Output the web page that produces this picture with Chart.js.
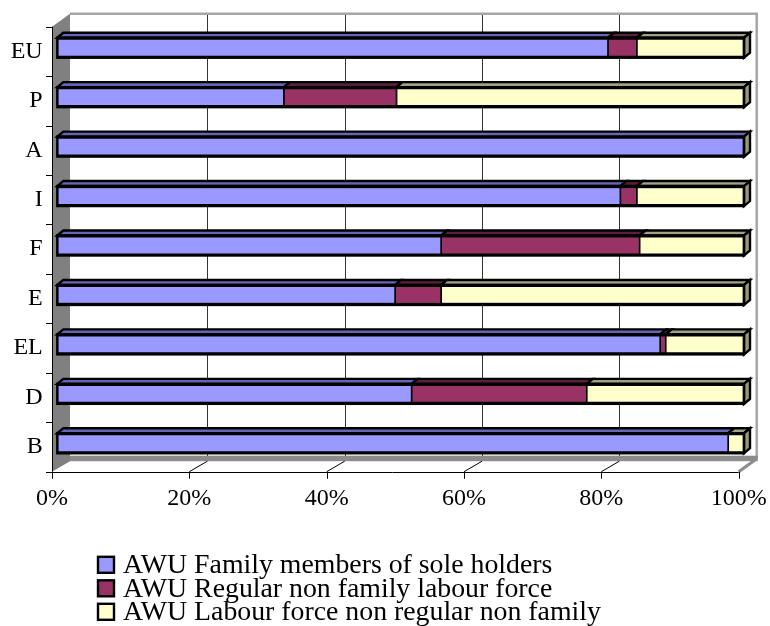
<!DOCTYPE html>
<html>
<head>
<meta charset="utf-8">
<script src="https://cdn.jsdelivr.net/npm/chart.js@4.4.1/dist/chart.umd.min.js"></script>
<style>
  html, body { margin: 0; padding: 0; background: #fff; }
  #wrap { width: 770px; height: 626px; }
</style>
</head>
<body>
<div id="wrap"><canvas id="awuChart" width="770" height="626"></canvas></div>
<script>
// countries, top to bottom as in the chart
const countries = ['EU', 'P', 'A', 'I', 'F', 'E', 'EL', 'D', 'B'];

// share of AWU in %
const familyMembers = [80.2, 33.0, 100, 82.0, 55.9, 49.2, 87.8, 51.6, 97.7];
const regularNonFamily = [4.2, 16.4, 0, 2.4, 28.9, 6.7, 0.8, 25.5, 0];
const nonRegularNonFamily = [15.6, 50.6, 0, 15.6, 15.2, 44.1, 11.4, 22.9, 2.3];

const seriesNames = [
    'AWU Family members of sole holders',
    'AWU Regular non family labour force',
    'AWU Labour force non regular non family'
];
const percentTicks = [0, 20, 40, 60, 80, 100];

const fillColors = ['#9999FF', '#993366', '#FFFFCC'];
const topColors = ['#6666B8', '#5C1F3D', '#A3A383'];
const endSideColor = '#99997A';

// 3D offsets, relative to the bars' front face
const AXIS_OFF = { dx: -5.3, dy: 3.7 };   // front plane (axes)
const BACK_OFF = { dx: 12.7, dy: -9.3 };  // back wall
const BAR_DEPTH = { dx: 6, dy: -5 };

const serif = '"Liberation Serif", "Times New Roman", serif';

// walls, floor, gridlines and axes of the 3D frame
const frame3d = {
    id: 'frame3d',
    beforeDatasetsDraw(chart) {
        const ctx = chart.ctx;
        const xs = chart.scales.x;
        const area = chart.chartArea;
        const x0 = xs.getPixelForValue(0), x1 = xs.getPixelForValue(100);

        const fL = x0 + AXIS_OFF.dx, fR = x1 + AXIS_OFF.dx;
        const fT = area.top + AXIS_OFF.dy, fB = area.bottom + AXIS_OFF.dy;
        const bL = x0 + BACK_OFF.dx, bR = x1 + BACK_OFF.dx;
        const bT = area.top + BACK_OFF.dy, bB = area.bottom + BACK_OFF.dy;

        ctx.save();

        // back wall gridlines
        ctx.strokeStyle = '#333';
        ctx.lineWidth = 1;
        percentTicks.slice(1, -1).forEach(v => {
            const x = Math.round(xs.getPixelForValue(v) + BACK_OFF.dx) + 0.5;
            ctx.beginPath();
            ctx.moveTo(x, bT);
            ctx.lineTo(x, bB);
            ctx.stroke();
        });

        // back wall outline
        ctx.strokeStyle = '#A6A6A6';
        ctx.lineWidth = 2.5;
        ctx.beginPath();
        ctx.moveTo(bL, bT);
        ctx.lineTo(bR, bT);
        ctx.lineTo(bR, bB);
        ctx.stroke();

        // floor edge
        ctx.fillStyle = '#8C8C8C';
        ctx.fillRect(bL, bB - 3, bR - bL + 1, 5.5);
        ctx.strokeStyle = '#8C8C8C';
        ctx.lineWidth = 3;
        ctx.beginPath();
        ctx.moveTo(bR, bB);
        ctx.lineTo(fR, fB);
        ctx.stroke();

        // left wall
        ctx.fillStyle = '#808080';
        ctx.beginPath();
        ctx.moveTo(fL, fT);
        ctx.lineTo(bL, bT);
        ctx.lineTo(bL, bB + 2.5);
        ctx.lineTo(fL, fB);
        ctx.closePath();
        ctx.fill();

        // floor diagonals from back gridlines to front ticks
        ctx.strokeStyle = '#000';
        ctx.lineWidth = 1;
        percentTicks.slice(1, -1).forEach(v => {
            const px = xs.getPixelForValue(v);
            ctx.beginPath();
            ctx.moveTo(px + BACK_OFF.dx, bB + 2.5);
            ctx.lineTo(px + AXIS_OFF.dx, fB);
            ctx.stroke();
        });

        // front axes
        ctx.beginPath();
        ctx.moveTo(fL - 6, Math.round(fB) + 0.5);
        ctx.lineTo(fR, Math.round(fB) + 0.5);
        ctx.moveTo(Math.round(fL) + 0.5, fT);
        ctx.lineTo(Math.round(fL) + 0.5, fB);
        ctx.stroke();

        // category ticks
        const band = (fB - fT) / countries.length;
        for (let i = 0; i < countries.length; i++) {
            const y = Math.round(fT + i * band) + 0.5;
            ctx.beginPath();
            ctx.moveTo(fL - 6, y);
            ctx.lineTo(fL, y);
            ctx.stroke();
        }
        // value ticks
        percentTicks.forEach(v => {
            const x = Math.round(xs.getPixelForValue(v) + AXIS_OFF.dx) + 0.5;
            ctx.beginPath();
            ctx.moveTo(x, fB);
            ctx.lineTo(x, fB + 7);
            ctx.stroke();
        });

        ctx.restore();
    },

    // top and side faces of the bars
    afterDatasetsDraw(chart) {
        const ctx = chart.ctx;
        ctx.save();
        ctx.strokeStyle = '#000';
        ctx.lineWidth = 2.4;
        ctx.lineJoin = 'miter';

        countries.forEach((c, idx) => {
            let lastBar = null, firstBar = null;
            chart.data.datasets.forEach((ds, di) => {
                const bar = chart.getDatasetMeta(di).data[idx];
                const p = bar.getProps(['x', 'y', 'base', 'height'], true);
                const left = Math.min(p.x, p.base), right = Math.max(p.x, p.base);
                if (right - left < 0.5) return;
                const top = p.y - p.height / 2;
                if (!firstBar) firstBar = { left, top, bottom: p.y + p.height / 2 };
                ctx.fillStyle = topColors[di];
                ctx.beginPath();
                ctx.moveTo(left, top);
                ctx.lineTo(left + BAR_DEPTH.dx, top + BAR_DEPTH.dy);
                ctx.lineTo(right + BAR_DEPTH.dx, top + BAR_DEPTH.dy);
                ctx.lineTo(right, top);
                ctx.closePath();
                ctx.fill();
                ctx.stroke();
                lastBar = { right, top, bottom: p.y + p.height / 2 };
            });
            if (lastBar) {
                // end face takes the last series colour, as in the original
                ctx.fillStyle = endSideColor;
                ctx.beginPath();
                ctx.moveTo(lastBar.right, lastBar.top);
                ctx.lineTo(lastBar.right + BAR_DEPTH.dx, lastBar.top + BAR_DEPTH.dy);
                ctx.lineTo(lastBar.right + BAR_DEPTH.dx, lastBar.bottom + BAR_DEPTH.dy);
                ctx.lineTo(lastBar.right, lastBar.bottom);
                ctx.closePath();
                ctx.fill();
                ctx.stroke();
                // outline of the whole front face
                ctx.strokeRect(firstBar.left, firstBar.top, lastBar.right - firstBar.left, lastBar.bottom - firstBar.top);
            }
        });
        ctx.restore();
    },

    // legend, left aligned lines under the plot
    afterDraw(chart) {
        const ctx = chart.ctx;
        ctx.save();
        ctx.font = '27.8px ' + serif;
        ctx.textBaseline = 'alphabetic';
        ctx.fillStyle = '#000';
        chart.data.datasets.forEach((ds, i) => {
            const base = 573.3 + i * 23.5;
            ctx.fillStyle = ds.backgroundColor;
            ctx.fillRect(98, base - 16.5, 16, 16);
            ctx.strokeStyle = '#000';
            ctx.lineWidth = 2.4;
            ctx.strokeRect(98, base - 16.5, 16, 16);
            ctx.fillStyle = '#000';
            ctx.fillText(ds.label, 123, base);
        });
        ctx.restore();
    }
};

const seriesData = [familyMembers, regularNonFamily, nonRegularNonFamily];

new Chart(document.getElementById('awuChart'), {
    type: 'bar',
    data: {
        labels: countries,
        datasets: seriesData.map((vals, i) => ({
            label: seriesNames[i],
            data: vals,
            backgroundColor: fillColors[i],
            borderColor: '#000',
            borderWidth: { top: 2.4, bottom: 2.4, left: 1.2, right: 1.2 },
            borderSkipped: false,
            barThickness: 20
        }))
    },
    options: {
        indexAxis: 'y',
        responsive: false,
        animation: false,
        layout: { padding: { left: 0, right: 26, top: 23, bottom: 118 } },
        plugins: {
            legend: { display: false },
            tooltip: { enabled: false }
        },
        scales: {
            x: {
                stacked: true,
                min: 0,
                max: 100,
                afterFit(scale) {
                    scale.height = 40;
                    scale.paddingLeft = 0;
                    scale.paddingRight = 0;
                },
                afterBuildTicks(scale) { scale.ticks = percentTicks.map(v => ({ value: v })); },
                grid: { display: false, drawTicks: false },
                border: { display: false },
                ticks: {
                    font: { family: serif, size: 24 },
                    color: '#000',
                    padding: 16,
                    labelOffset: AXIS_OFF.dx,
                    maxRotation: 0,
                    callback: v => v + '%'
                }
            },
            y: {
                stacked: true,
                afterFit(scale) {
                    scale.width = 57.3;
                    scale.paddingTop = 0;
                    scale.paddingBottom = 0;
                },
                grid: { display: false, drawTicks: false },
                border: { display: false },
                ticks: {
                    font: { family: serif, size: 24 },
                    color: '#000',
                    padding: 14.6,
                    labelOffset: AXIS_OFF.dy
                }
            }
        }
    },
    plugins: [frame3d]
});
</script>
</body>
</html>
